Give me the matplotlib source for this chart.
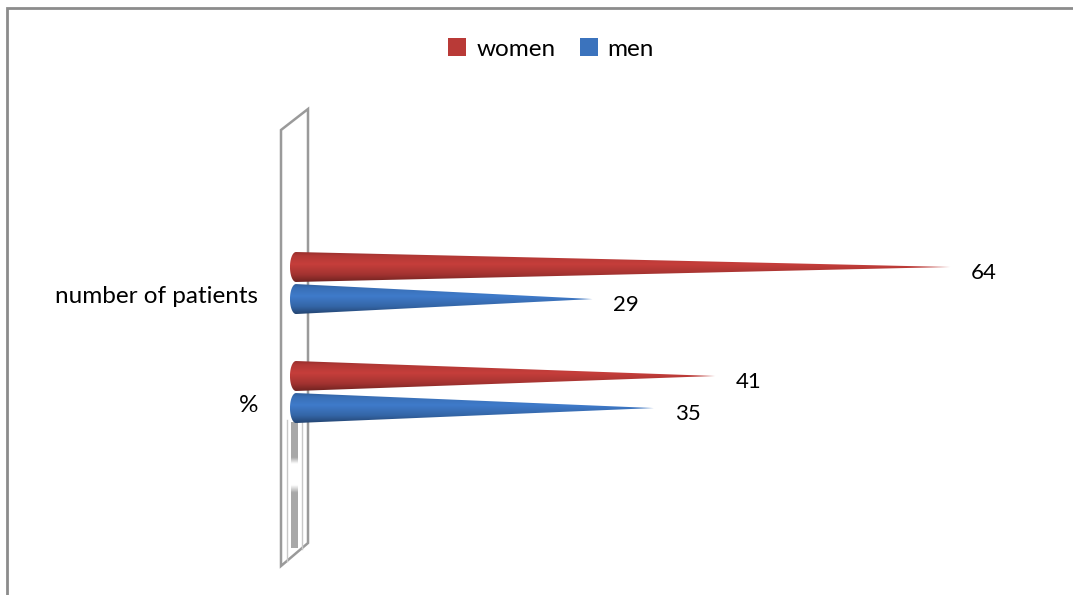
import numpy as np
import matplotlib.pyplot as plt
from matplotlib.path import Path
from matplotlib.patches import PathPatch, Patch, Polygon
from matplotlib.colors import to_rgb

plt.rcParams['font.family'] = ['Lato', 'DejaVu Sans']

# chart data
categories = ['number of patients', '%']
series_names = ['women', 'men']
women = [64, 41]
men = [29, 35]
series_colors = ['#b93a37', '#3b73bd']

W, H = 1073, 595
fig = plt.figure(figsize=(W / 100, H / 100), dpi=100)

# background layer in pixel units: outer frame and the thin 3D wall
bg = fig.add_axes([0, 0, 1, 1])
bg.set_xlim(0, W)
bg.set_ylim(H, 0)
bg.axis('off')
bg.plot([7, 7, W], [H, 8, 8], color='#8c8c8c', lw=2, solid_joinstyle='miter')

wall = Polygon([(281, 130), (308, 109), (308, 543), (281, 566)],
               closed=True, fill=False, ec='#9a9a9a', lw=1.8)
bg.add_patch(wall)
bg.plot([287, 287], [420, 561], color='#c8c8c8', lw=1)
bg.plot([302, 302], [420, 549], color='#c8c8c8', lw=1)

# grey floor band of the wall, fading out in the middle
ys = np.linspace(0, 1, 200)
alpha = np.interp(ys, [0, 0.28, 0.33, 0.5, 0.56, 1], [1, 1, 0, 0, 1, 1])
band = np.zeros((200, 1, 4))
band[..., :3] = 0.66
band[:, 0, 3] = alpha
bg.imshow(band, extent=(291, 298, 548, 422), origin='upper', aspect='auto',
          interpolation='bilinear')
bg.set_xlim(0, W)
bg.set_ylim(H, 0)

# data layer (x from -1 so the rounded cone bases stay inside the axes)
px_per_unit = 10.22
ax = fig.add_axes([(296 - px_per_unit) / W, 1 - 560 / H, 70 * px_per_unit / W, 460 / H])
ax.set_facecolor('none')
for s in ax.spines.values():
    s.set_visible(False)
ax.set_xticks([])
ax.set_yticks([])

bar_h = 0.275
offsets = [-0.147, 0.147]
rx = 0.59


def shade(color, n=80):
    base = np.array(to_rgb(color))
    t = np.linspace(0, 1, n)
    f = np.interp(t, [0, 0.12, 0.4, 0.75, 1], [0.82, 0.96, 1.07, 0.88, 0.6])
    img = np.clip(base[None, :] * f[:, None], 0, 1)
    return img[:, None, :]


def cone(ax, value, yc, color):
    t = np.linspace(0, np.pi, 30)
    arc = np.column_stack([-rx * np.sin(t), yc + bar_h / 2 * np.cos(t)])
    verts = [(value, yc)] + [tuple(p) for p in arc] + [(value, yc)]
    codes = [Path.MOVETO] + [Path.LINETO] * (len(verts) - 2) + [Path.CLOSEPOLY]
    patch = PathPatch(Path(verts, codes), fc='none', ec='none')
    ax.add_patch(patch)
    im = ax.imshow(shade(color), extent=(-rx, value, yc + bar_h / 2, yc - bar_h / 2),
                   origin='upper', aspect='auto', interpolation='bilinear', zorder=2)
    im.set_clip_path(patch)


for i, cat in enumerate(categories):
    for j, vals in enumerate([women, men]):
        yc = i + offsets[j]
        cone(ax, vals[i], yc, series_colors[j])
        ax.annotate(str(vals[i]), xy=(vals[i], yc), xytext=(21, -6),
                    textcoords='offset pixels', ha='left', va='center',
                    fontsize=16, color='black')
    ax.annotate(cat, xy=(0, i), xytext=(-38, -13), textcoords='offset pixels',
                ha='right', va='center', fontsize=17.5, color='black',
                annotation_clip=False)

ax.set_xlim(-1, 69)
ax.set_ylim(2.541, -1.679)

handles = [Patch(facecolor=c, edgecolor='none') for c in series_colors]
fig.legend(handles, series_names, loc='center', bbox_to_anchor=(551 / W, 1 - 49 / H),
           ncol=2, frameon=False, fontsize=17.5, handlelength=0.75, handleheight=0.75,
           handletextpad=0.4, columnspacing=1.0)

fig.savefig('out.png', dpi=100)
